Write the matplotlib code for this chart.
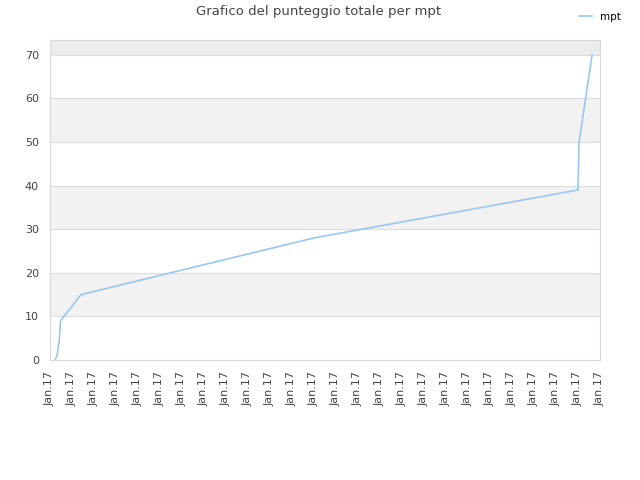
import numpy as np
import matplotlib
matplotlib.use("Agg")
import matplotlib.pyplot as plt

# x positions in tick units (0 = first tick), y = cumulative score
x_pos = [0.23, 0.32, 0.41, 0.48, 1.41, 12.0, 24.0, 24.05, 24.64]
score = [0, 1, 4, 9, 15, 28, 39, 50, 70]
tick_labels = ["Jan.17"] * 26
series_name = "mpt"
title = "Grafico del punteggio totale per mpt"

fig = plt.figure(figsize=(6.4, 4.8), dpi=100)
ax = fig.add_axes([50/640, 1-360/480, 550/640, 320/480])

ymax = 73.4
# alternating bands
for lo in (10, 30, 50):
  ax.axhspan(lo, lo+10, color='#f2f2f2', zorder=0, lw=0)
ax.axhspan(70, ymax, color='#ececec', zorder=0, lw=0)
for g in range(10, 80, 10):
  ax.axhline(g, color='#dddddd', lw=0.8, zorder=1)

ax.plot(x_pos, score, color='#99c6f3', lw=1.2, zorder=3, label=series_name)

ax.set_xlim(0, len(tick_labels)-1)
ax.set_ylim(0, ymax)
ax.set_xticks(np.arange(len(tick_labels)))
ax.set_xticklabels(tick_labels, rotation=90, fontsize=8, color='#444444')
ax.set_yticks(range(0, 80, 10))
ax.tick_params(axis='y', labelsize=8, colors='#444444', length=0, pad=8)
ax.tick_params(axis='x', length=0, pad=8)
for s in ax.spines.values():
  s.set_color('#d8d8d8')
  s.set_linewidth(0.8)

fig.text(0.497, 1-12/480, title, ha='center', va='center', fontsize=9.5, color='#444444')
fig.legend(loc='upper right', bbox_to_anchor=(0.985, 0.995), frameon=False, fontsize=7.5,
  handlelength=1.2, handletextpad=0.8)

fig.savefig("out.png", dpi=100)
